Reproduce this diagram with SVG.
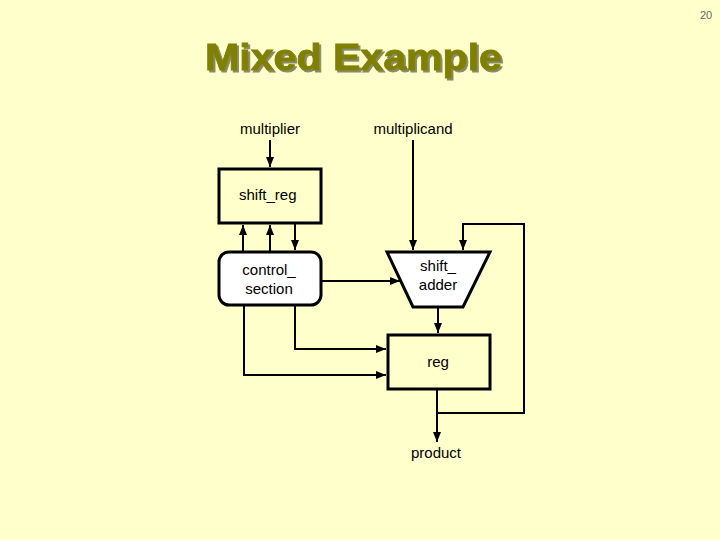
<svg xmlns="http://www.w3.org/2000/svg" width="720" height="540" viewBox="0 0 720 540">
<style>
text{font-family:"Liberation Sans",Arial,sans-serif;fill:#000}
.lbl{font-size:15px}
.box{stroke:#000;stroke-width:3}
.wire{fill:none;stroke:#000;stroke-width:2}
</style>
<defs>
<marker id="ah" markerUnits="userSpaceOnUse" markerWidth="10" markerHeight="10" viewBox="0 0 10 10" refX="10" refY="5" orient="auto">
<path d="M0,1 L10,5 L0,9 Z" fill="#000"/>
</marker>
<filter id="shadow" x="-5%" y="-20%" width="110%" height="140%">
<feDropShadow dx="2" dy="2" stdDeviation="0.5" flood-color="#6b6b50" flood-opacity="0.8"/>
</filter>
</defs>
<rect width="720" height="540" fill="#FFFFCC"/>
<text x="706" y="19" font-size="11" text-anchor="middle" style="fill:#666">20</text>
<g id="title">
<text x="205" y="70" font-size="37" font-weight="bold" textLength="297" lengthAdjust="spacingAndGlyphs" filter="url(#shadow)" style="fill:#808000;stroke:#808000;stroke-width:0.8">Mixed Example</text>
</g>
<g id="multiplier"><text class="lbl" x="270" y="134" text-anchor="middle">multiplier</text></g>
<g id="multiplicand"><text class="lbl" x="413" y="134" text-anchor="middle">multiplicand</text></g>
<g id="shift_reg">
<rect class="box" x="219" y="169" width="102" height="54" fill="#FFFFCC"/>
<text class="lbl" x="239" y="200">shift_reg</text>
</g>
<g id="control_section">
<rect class="box" x="219" y="252" width="102" height="53" rx="10" fill="#fff"/>
<text class="lbl" x="269" y="275" text-anchor="middle">control_</text>
<text class="lbl" x="269" y="294" text-anchor="middle">section</text>
</g>
<g id="shift_adder">
<polygon class="box" points="387,252 490,252 463,307 413,307" fill="#fff"/>
<text class="lbl" x="438" y="271" text-anchor="middle">shift_</text>
<text class="lbl" x="438" y="290" text-anchor="middle">adder</text>
</g>
<g id="reg">
<rect class="box" x="388" y="335" width="102" height="54" fill="#FFFFCC"/>
<text class="lbl" x="438" y="367" text-anchor="middle">reg</text>
</g>
<g id="product"><text class="lbl" x="436" y="458" text-anchor="middle">product</text></g>
<g id="connectors">
<path class="wire" d="M270,140 V167" marker-end="url(#ah)"/>
<path class="wire" d="M413,140 V250" marker-end="url(#ah)"/>
<path class="wire" d="M243,252 V225" marker-end="url(#ah)"/>
<path class="wire" d="M270,252 V225" marker-end="url(#ah)"/>
<path class="wire" d="M295,223 V250" marker-end="url(#ah)"/>
<path class="wire" d="M321,281 H400" marker-end="url(#ah)"/>
<path class="wire" d="M438,307 V333" marker-end="url(#ah)"/>
<path class="wire" d="M437,389 V413 H524 V224 H463 V250" marker-end="url(#ah)"/>
<path class="wire" d="M437,413 V442" marker-end="url(#ah)"/>
<path class="wire" d="M295,305 V349 H386" marker-end="url(#ah)"/>
<path class="wire" d="M244,305 V375 H386" marker-end="url(#ah)"/>
</g>
</svg>
